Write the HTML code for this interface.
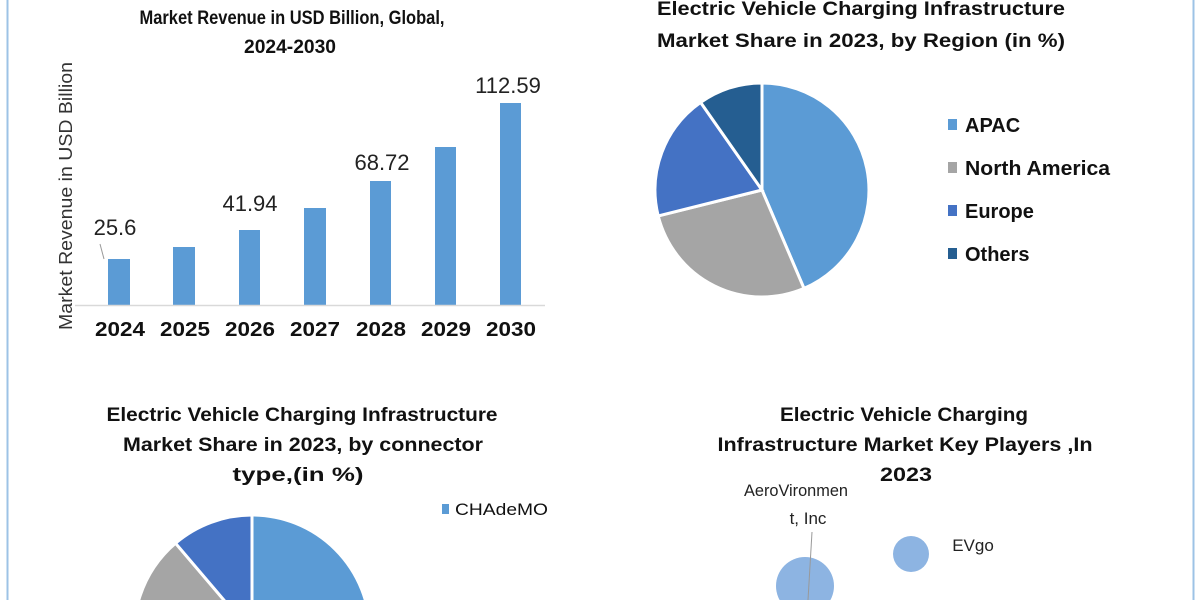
<!DOCTYPE html>
<html><head><meta charset="utf-8"><style>
html,body{margin:0;padding:0;background:#fff;width:1200px;height:600px;overflow:hidden;}
svg{display:block;font-family:"Liberation Sans",Arial,sans-serif;}
.t{font-weight:bold;font-size:19px;fill:#111;text-anchor:middle;}
</style></head><body>
<svg width="1200" height="600" viewBox="0 0 1200 600" xmlns="http://www.w3.org/2000/svg">
<rect width="1200" height="600" fill="#fff"/>
<line x1="7.5" y1="0" x2="7.5" y2="600" stroke="#9dc3e6" stroke-width="2"/>
<line x1="1193.5" y1="0" x2="1193.5" y2="600" stroke="#9dc3e6" stroke-width="2"/>

<!-- Bar chart -->
<text class="t" x="292" y="24" textLength="305" lengthAdjust="spacingAndGlyphs">Market Revenue in USD Billion, Global,</text>
<text class="t" x="290" y="53" textLength="92" lengthAdjust="spacingAndGlyphs">2024-2030</text>
<text transform="translate(72,196) rotate(-90)" font-size="18" fill="#333" text-anchor="middle" textLength="268" lengthAdjust="spacingAndGlyphs">Market Revenue in USD Billion</text>
<g fill="#5b9bd5">
<rect x="108" y="259" width="22" height="46"/>
<rect x="173" y="247" width="22" height="58"/>
<rect x="239" y="230" width="21" height="75"/>
<rect x="304" y="208" width="22" height="97"/>
<rect x="370" y="181" width="21" height="124"/>
<rect x="435" y="147" width="21" height="158"/>
<rect x="500" y="103" width="21" height="202"/>
</g>
<line x1="75" y1="305.5" x2="545" y2="305.5" stroke="#d9d9d9" stroke-width="1.5"/>
<g font-size="20" font-weight="bold" fill="#111" text-anchor="middle">
<text x="120" y="336" textLength="50" lengthAdjust="spacingAndGlyphs">2024</text><text x="185" y="336" textLength="50" lengthAdjust="spacingAndGlyphs">2025</text><text x="250" y="336" textLength="50" lengthAdjust="spacingAndGlyphs">2026</text>
<text x="315" y="336" textLength="50" lengthAdjust="spacingAndGlyphs">2027</text><text x="381" y="336" textLength="50" lengthAdjust="spacingAndGlyphs">2028</text><text x="446" y="336" textLength="50" lengthAdjust="spacingAndGlyphs">2029</text><text x="511" y="336" textLength="50" lengthAdjust="spacingAndGlyphs">2030</text>
</g>
<g font-size="22" fill="#222" text-anchor="middle">
<text x="115" y="235">25.6</text><text x="250" y="211">41.94</text><text x="382" y="170">68.72</text><text x="508" y="93">112.59</text>
</g>
<line x1="100" y1="244" x2="104" y2="259" stroke="#999" stroke-width="1"/>

<!-- Pie 1 -->
<text class="t" x="861" y="15" textLength="408" lengthAdjust="spacingAndGlyphs">Electric Vehicle Charging Infrastructure</text>
<text class="t" x="861" y="47" textLength="408" lengthAdjust="spacingAndGlyphs">Market Share in 2023, by Region (in %)</text>
<g stroke="#fff" stroke-width="3" transform="translate(762,190)">
<path d="M0,0 L0,-107 A107,107 0 0,1 42,98.4 Z" fill="#5b9bd5"/>
<path d="M0,0 L42,98.4 A107,107 0 0,1 -103.8,25.9 Z" fill="#a5a5a5"/>
<path d="M0,0 L-103.8,25.9 A107,107 0 0,1 -61.4,-87.6 Z" fill="#4472c4"/>
<path d="M0,0 L-61.4,-87.6 A107,107 0 0,1 0,-107 Z" fill="#255e91"/>
</g>
<g font-size="20" font-weight="bold" fill="#111">
<rect x="948" y="119" width="9" height="11" fill="#5b9bd5"/><text x="965" y="132">APAC</text>
<rect x="948" y="162" width="9" height="11" fill="#a5a5a5"/><text x="965" y="175" textLength="145" lengthAdjust="spacingAndGlyphs">North America</text>
<rect x="948" y="205" width="9" height="11" fill="#4472c4"/><text x="965" y="218">Europe</text>
<rect x="948" y="248" width="9" height="11" fill="#255e91"/><text x="965" y="261">Others</text>
</g>

<!-- Pie 2 -->
<text class="t" x="302" y="421" textLength="391" lengthAdjust="spacingAndGlyphs">Electric Vehicle Charging Infrastructure</text>
<text class="t" x="303" y="451" textLength="360" lengthAdjust="spacingAndGlyphs">Market Share in 2023, by connector</text>
<text class="t" x="298" y="481" textLength="131" lengthAdjust="spacingAndGlyphs">type,(in %)</text>
<rect x="442" y="504" width="7" height="10" fill="#5b9bd5"/>
<text x="455" y="515" font-size="17" fill="#111" textLength="93" lengthAdjust="spacingAndGlyphs">CHAdeMO</text>
<g stroke="#fff" stroke-width="3" transform="translate(252,633)">
<path d="M0,0 L0,-118 A118,118 0 0,1 0,118 Z" fill="#5b9bd5"/>
<path d="M0,0 L0,118 A118,118 0 0,1 -115,26 Z" fill="#a5a5a5"/>
<path d="M0,0 L-115,26 A118,118 0 0,1 -76.5,-89.8 Z" fill="#a5a5a5"/>
<path d="M0,0 L-76.5,-89.8 A118,118 0 0,1 0,-118 Z" fill="#4472c4"/>
</g>

<!-- Bubbles -->
<text class="t" x="904" y="421" textLength="248" lengthAdjust="spacingAndGlyphs">Electric Vehicle Charging</text>
<text class="t" x="905" y="451" textLength="375" lengthAdjust="spacingAndGlyphs">Infrastructure Market Key Players ,In</text>
<text class="t" x="906" y="481" textLength="52" lengthAdjust="spacingAndGlyphs">2023</text>
<circle cx="805" cy="586" r="29" fill="#8db4e2"/>
<circle cx="911" cy="554" r="18" fill="#8db4e2"/>
<g font-size="17" fill="#222" text-anchor="middle">
<text x="796" y="496" textLength="104" lengthAdjust="spacingAndGlyphs">AeroVironmen</text><text x="808" y="524">t, Inc</text>
<text x="973" y="551">EVgo</text>
</g>
<line x1="812" y1="532" x2="808" y2="600" stroke="#999" stroke-width="1"/>
</svg>
</body></html>
